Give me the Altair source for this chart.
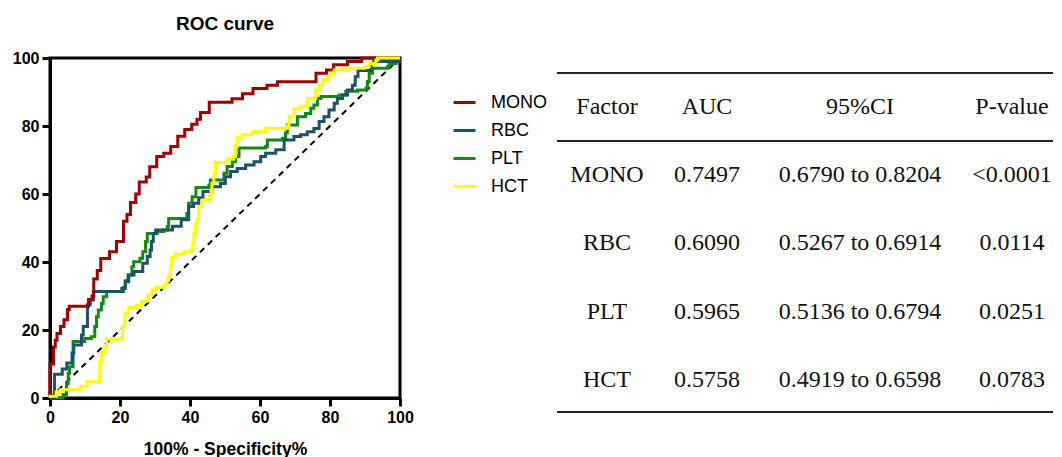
import altair as alt
import pandas as pd

# ---------------- ROC curve data (x = 100% - Specificity%, y = Sensitivity%) ----------------
series_names = ["MONO", "RBC", "PLT", "HCT"]
series_colors = ["#A00000", "#1B5468", "#138A13", "#FFFF00"]

mono_x = [0, 0, 1, 1.5, 2, 3, 4, 5, 5.5, 11, 12, 12.5, 13.5, 14.5, 17, 19, 21, 22, 23, 24.5,
          25.5, 27.5, 28.5, 30.5, 32.5, 34.5, 36.5, 38.5, 40.5, 42, 43, 45.5, 52, 55, 58, 62,
          65, 76, 79, 81, 85, 89, 100]
mono_y = [0, 10, 15, 17, 19, 21, 23, 26, 27, 29, 30, 35, 37.5, 41, 43, 46, 52, 54, 57.5, 60,
          63.5, 65, 68, 71, 72, 74, 77, 79, 80.5, 82, 84, 87, 88, 89.5, 91, 92,
          93, 95.5, 96.5, 98, 99, 100, 100]

rbc_x = [0, 1.3, 3.5, 4.8, 6.3, 6.8, 9, 9.5, 10.7, 11.5, 12.4, 20.5, 21.5, 22.5, 24, 26.5,
         27.8, 28.6, 29, 29.5, 30.2, 35, 37.5, 39.6, 41, 42.5, 43.7, 46.3, 48.7, 50.1, 51.6,
         53.5, 55.9, 58.3, 60.2, 61.6, 64.5, 66.9, 69.7, 71.6, 73.5, 75.4, 76.9, 78.3, 79.7,
         81.2, 82.1, 83.6, 85, 86.4, 87.2, 88, 91.7, 92.5, 99.8, 100]
rbc_y = [0, 7, 8.5, 10.3, 13.2, 15.6, 18.5, 21, 27.4, 28.8, 31.3, 32.2, 34.2, 36.2, 37.2, 39.6,
         41.6, 43.5, 46, 48.4, 49.4, 50.5, 52.4, 56.3, 57.3, 58.9, 60.7, 62.1, 63.1, 65.1, 66.6,
         67.5, 68.5, 69.5, 71, 72, 73, 75.9, 76.9, 77.4, 78.3, 79.3, 81.3, 82.7, 84.7,
         86.7, 88.1, 89.1, 90.6, 92, 94.5, 96.3, 98.4, 99, 100, 100]

plt_x = [0, 3.7, 4.7, 5.2, 5.6, 6.6, 9.9, 11.8, 12.8, 13.3, 13.8, 14.7, 15.2, 16.2, 21, 21.5,
         22.3, 23.4, 23.9, 25.7, 26.5, 27.3, 27.8, 30.6, 32.5, 33.5, 33.9, 39.1, 39.6, 40.6,
         41.7, 45.4, 45.8, 49.7, 50.6, 52.1, 53, 54, 61.6, 62.1, 66.4, 67.3, 67.8, 70.7, 73,
         74.5, 75.4, 76.4, 77.4, 82.6, 84.5, 87.9, 90.3, 90.7, 91.2, 92.2, 96.5, 96.9, 98.9, 100]
plt_y = [0, 1, 4.3, 7.3, 9.2, 16.6, 17.5, 18, 21, 23.9, 25.9, 27.8, 29.8, 31.3, 32.5, 34.5,
         36.2, 38.6, 40.1, 41.1, 43, 46, 48.4, 49, 49.4, 50.4, 52.8, 54.3, 57.3, 59.2,
         61.9, 62.6, 64.1, 66.1, 68.1, 69.5, 71, 73.5, 74, 75.9, 76.4, 78, 80.3, 82.7, 83.7,
         85.2, 86.2, 88.1, 88.7, 89.1, 90.2, 90.6, 91.2, 93.1, 95.5, 97, 97.5, 98.4, 99.4, 100]

hct_x = [0, 0, 1.8, 2.9, 8.6, 10.5, 14.2, 14.7, 15.7, 16.2, 20.7, 21.4, 22.4, 24.7, 26.2, 28,
         29.1, 30.2, 32.5, 33.4, 33.9, 34.4, 34.8, 35.8, 38.2, 40.4, 40.8, 41.1, 41.6, 42, 42.5,
         43.5, 45.6, 46, 46.3, 46.8, 47.3, 50.6, 52.5, 53, 53.5, 54.9, 57.8, 61.5, 67.8, 68.3,
         69.7, 71.6, 73.5, 75.9, 76.9, 77.9, 79.3, 80.2, 81.2, 85, 89.8, 91.2, 93.1, 93.6, 100]
hct_y = [0, 0.5, 1.8, 2.4, 3.3, 4.8, 10.5, 13.4, 15.1, 17.3, 21, 24.9, 26.6, 27.3, 28.5, 30.3,
         31.8, 32.5, 33.2, 34.5, 35.7, 38.6, 41.3, 42.3, 43, 43.5, 45.5, 48.4, 51.4, 52.8, 56.3,
         58.2, 59.6, 60.7, 63.1, 66.1, 69.3, 70.3, 71, 74, 76.7, 77.4, 78.3, 79.3, 79.9, 82.9,
         85, 85.8, 88.1, 90.6, 92, 93.5, 94.6, 95.5, 96.5, 97, 97.5, 98.4, 99.4, 100, 100]

diag_x = [0, 100]
diag_y = [0, 100]

# ---------------- table data ----------------
table_headers = ["Factor", "AUC", "95%CI", "P-value"]
table_factor = ["MONO", "RBC", "PLT", "HCT"]
table_auc = ["0.7497", "0.6090", "0.5965", "0.5758"]
table_ci = ["0.6790 to 0.8204", "0.5267 to 0.6914", "0.5136 to 0.6794", "0.4919 to 0.6598"]
table_p = ["<0.0001", "0.0114", "0.0251", "0.0783"]

# ---------------- build frames ----------------
curve_rows = []
for name, xs, ys in [("MONO", mono_x, mono_y), ("RBC", rbc_x, rbc_y),
                     ("PLT", plt_x, plt_y), ("HCT", hct_x, hct_y)]:
    for i, (xv, yv) in enumerate(zip(xs, ys)):
        curve_rows.append({"series": name, "x": xv, "y": yv, "i": i})
curves = pd.DataFrame(curve_rows)
diag = pd.DataFrame({"x": diag_x, "y": diag_y})

SANS = "Liberation Sans"
SERIF = "Liberation Serif"

x_enc = alt.X("x:Q", scale=alt.Scale(domain=[0, 100], nice=False),
              axis=alt.Axis(values=[0, 20, 40, 60, 80, 100], title="100% - Specificity%",
                            labelFlush=False, titlePadding=15))
y_enc = alt.Y("y:Q", scale=alt.Scale(domain=[0, 100], nice=False),
              axis=alt.Axis(values=[0, 20, 40, 60, 80, 100], title=None))
color_enc = alt.Color("series:N", scale=alt.Scale(domain=series_names, range=series_colors),
                      legend=alt.Legend(title=None, orient="none", legendX=402, legendY=32,
                                        symbolType="stroke", symbolStrokeWidth=3, symbolSize=480,
                                        labelFont=SANS, labelFontSize=18, labelColor="black",
                                        labelOffset=14, rowPadding=6))

base = alt.Chart(curves)
layers = []
for name in ["PLT", "RBC", "MONO", "HCT"]:
    layers.append(
        base.transform_filter(alt.datum.series == name)
        .mark_line(interpolate="step-after", strokeWidth=3)
        .encode(x=x_enc, y=y_enc, color=color_enc, order="i:Q")
    )

diag_line = alt.Chart(diag).mark_line(color="black", strokeWidth=2, strokeDash=[6, 5]).encode(
    x=x_enc, y=y_enc)

roc = alt.layer(diag_line, *layers).properties(
    width=350, height=340,
    title=alt.TitleParams("ROC curve", font=SANS, fontSize=19, fontWeight="bold",
                          color="black", anchor="middle", offset=16),
    view=alt.ViewBackground(stroke="black", strokeWidth=3),
)

# table
trows = []
for c, h in enumerate(table_headers):
    trows.append({"row": 0, "col": c, "text": h})
for r in range(len(table_factor)):
    for c, vals in enumerate([table_factor, table_auc, table_ci, table_p]):
        trows.append({"row": r + 1, "col": c, "text": vals[r]})
tdf = pd.DataFrame(trows)
line_rows = pd.DataFrame({"row": [-0.5, 0.5, 4.47]})

ty = alt.Y("row:Q", scale=alt.Scale(domain=[-0.718, 4.264], reverse=True, nice=False, zero=False),
           axis=None)
tx = alt.X("col:Q", scale=alt.Scale(domain=[0, 1, 2, 3], range=[50, 150, 303, 455],
                                    nice=False, zero=False), axis=None)

ttext = alt.Chart(tdf).mark_text(font=SERIF, fontSize=24, color="#111111", baseline="middle",
                                 align="center").encode(x=tx, y=ty, text="text:N")
trules = alt.Chart(line_rows).mark_rule(color="#222222", strokeWidth=2).encode(
    y=ty, x=alt.value(0), x2=alt.value(496))

table = alt.layer(trules, ttext).properties(width=496, height=340,
                                            view=alt.ViewBackground(strokeWidth=0))

chart = alt.hconcat(roc, table, spacing=141).properties(
    padding={"left": 2, "top": 5, "right": 0, "bottom": 0}
).configure_axis(
    domainColor="black", domainWidth=3, tickColor="black", tickWidth=3, tickSize=8,
    labelFont=SANS, labelFontSize=16, labelFontWeight="bold", labelColor="black",
    labelPadding=3, titleFont=SANS, titleFontSize=17.5, titleFontWeight="bold",
    titleColor="black", grid=False
).configure_view(strokeWidth=0)

chart.save("out.html", embed_options={"renderer": "svg", "actions": False})
